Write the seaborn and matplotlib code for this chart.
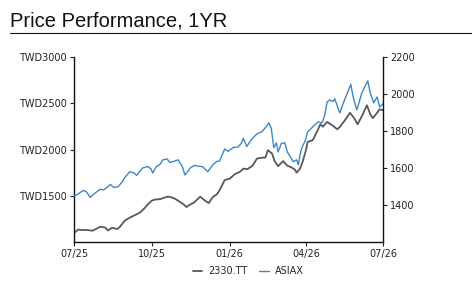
import pandas as pd
import matplotlib.pyplot as plt
import matplotlib.dates as mdates
import seaborn as sns
from matplotlib.lines import Line2D
from matplotlib.ticker import FuncFormatter

# Data (day offsets from 2025-07-01)
tsmc_days = [0, 5, 9, 15, 22, 31, 37, 40, 45, 51, 54, 60, 66, 72, 78, 84, 87, 92, 96, 102,
             105, 111, 116, 119, 125, 129, 133, 137, 141, 149, 155, 159, 164, 169, 172, 178, 184, 190, 196, 200,
             205, 211, 216, 222, 226, 229, 234, 237, 241, 247, 252, 257, 261, 263, 267, 270, 274, 276, 282, 287,
             291, 294, 299, 305, 311, 314, 320, 326, 331, 335, 340, 346, 350, 353, 358, 361, 365]
tsmc_price = [1097, 1135, 1130, 1130, 1122, 1165, 1156, 1124, 1154, 1140, 1162, 1232, 1264, 1291, 1318, 1372, 1405, 1448, 1459, 1464,
              1475, 1491, 1480, 1469, 1435, 1410, 1378, 1405, 1421, 1489, 1446, 1421, 1486, 1518, 1561, 1669, 1685, 1734, 1759, 1793,
              1788, 1825, 1901, 1912, 1912, 1993, 1955, 1874, 1820, 1874, 1825, 1806, 1782, 1750, 1793, 1866, 1993, 2082, 2101, 2192,
              2273, 2246, 2298, 2262, 2219, 2244, 2316, 2397, 2338, 2273, 2360, 2478, 2381, 2338, 2397, 2435, 2424]

asiax_days = [0, 5, 11, 15, 19, 25, 31, 35, 43, 47, 52, 57, 60, 66, 71, 74, 81, 87, 91, 93,
              97, 102, 105, 110, 113, 118, 123, 128, 131, 135, 137, 142, 145, 152, 158, 164, 169, 172, 178, 182,
              188, 194, 198, 200, 204, 208, 211, 216, 222, 228, 230, 233, 236, 239, 241, 245, 249, 252, 255, 259,
              263, 265, 267, 269, 273, 276, 282, 288, 293, 296, 299, 302, 306, 308, 311, 313, 314, 318, 322, 327,
              330, 334, 337, 340, 344, 347, 350, 352, 354, 358, 361, 365]
asiax_value = [1446, 1460, 1479, 1470, 1441, 1465, 1485, 1481, 1511, 1495, 1498, 1525, 1549, 1580, 1573, 1560, 1600, 1608, 1595, 1573,
               1606, 1622, 1644, 1649, 1630, 1636, 1644, 1607, 1562, 1584, 1599, 1614, 1611, 1607, 1580, 1617, 1636, 1638, 1703, 1690,
               1711, 1714, 1736, 1761, 1716, 1743, 1761, 1784, 1797, 1828, 1845, 1815, 1709, 1736, 1687, 1733, 1736, 1687, 1665, 1634,
               1644, 1617, 1671, 1709, 1746, 1795, 1822, 1849, 1844, 1882, 1957, 1968, 1959, 1974, 1936, 1909, 1898, 1950, 1995, 2052,
               1979, 1914, 1957, 2006, 2044, 2071, 2004, 1979, 1952, 1984, 1930, 1947]

left_ticks = [1500, 2000, 2500, 3000]
right_ticks = [1400, 1600, 1800, 2000, 2200]
x_ticks = ['2025-07-01', '2025-10-01', '2026-01-01', '2026-04-01', '2026-07-01']

start = pd.Timestamp('2025-07-01')
tsmc = pd.DataFrame({'date': start + pd.to_timedelta(tsmc_days, unit='D'), 'price': tsmc_price})
asiax = pd.DataFrame({'date': start + pd.to_timedelta(asiax_days, unit='D'), 'value': asiax_value})

sns.set_style("ticks")
plt.rcParams['font.family'] = ['DejaVu Sans']

fig = plt.figure(figsize=(4.72, 2.92), dpi=100)
ax = fig.add_axes([74 / 472, 1 - 242 / 292, 309 / 472, 185 / 292])
ax2 = ax.twinx()

sns.lineplot(data=tsmc, x='date', y='price', ax=ax, color='#595959', linewidth=1.3, label='2330.TT', legend=False)
sns.lineplot(data=asiax, x='date', y='value', ax=ax2, color='#3f87c4', linewidth=1.0, label='ASIAX', legend=False)

ax.set_xlim(pd.Timestamp(x_ticks[0]), pd.Timestamp(x_ticks[-1]))
ax.set_xticks(pd.to_datetime(x_ticks))
ax.xaxis.set_major_formatter(mdates.DateFormatter('%m/%y'))
ax.set_ylim(1000, 3000)
ax.set_yticks(left_ticks)
ax.yaxis.set_major_formatter(FuncFormatter(lambda v, p: f"TWD{v:.0f}"))
ax2.set_ylim(1200, 2200)
ax2.set_yticks(right_ticks)

for a in (ax, ax2):
    a.set_xlabel('')
    a.set_ylabel('')
    a.spines['top'].set_visible(False)
    a.tick_params(labelsize=7, length=3, width=0.8, colors='#222222', pad=2)
    for s in a.spines.values():
        s.set_linewidth(1.0)
        s.set_color('#111111')
ax.spines['right'].set_visible(False)
ax2.spines['left'].set_visible(False)
ax2.spines['bottom'].set_visible(False)
ax2.spines['right'].set_visible(True)

# legend below the plot
h1, l1 = ax.get_legend_handles_labels()
h2, l2 = ax2.get_legend_handles_labels()
fig.legend(h1 + h2, l1 + l2, loc='center', bbox_to_anchor=(248 / 472, 1 - 271 / 292), ncol=2,
           frameon=False, fontsize=7, handlelength=1.0, handletextpad=0.6, columnspacing=1.2)

# header
fig.text(10 / 472, 1 - 26.5 / 292, 'Price Performance, 1YR', fontsize=14.5, family='Liberation Sans',
         va='baseline', ha='left', color='#111111')
fig.add_artist(Line2D([10 / 472, 1], [1 - 33.3 / 292] * 2, color='#111111', linewidth=0.8))

fig.savefig('out.png', dpi=100)
plt.close()
